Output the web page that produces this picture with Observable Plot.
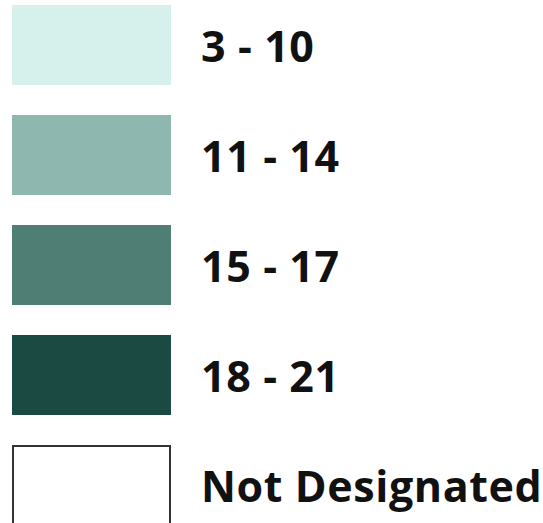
<!DOCTYPE html>
<html>
<head>
<meta charset="utf-8">
<script src="https://cdn.jsdelivr.net/npm/d3@7"></script>
<script src="https://cdn.jsdelivr.net/npm/@observablehq/plot@0.6"></script>
<style>
  html, body { margin: 0; padding: 0; background: #fff; }
  svg text { letter-spacing: 0.6px; }
</style>
</head>
<body>
<div id="chart"></div>
<script>
const labels = ["3 - 10", "11 - 14", "15 - 17", "18 - 21", "Not Designated"];
const colors = ["#d6f0eb", "#8eb7af", "#4f7e75", "#1b4a43", "#ffffff"];
const outlined = ["Not Designated"];

const data = labels.map((label, i) => ({label, color: colors[i], outlined: outlined.includes(label)}));

const chart = Plot.plot({
  width: 543,
  height: 523,
  margin: 0,
  style: {background: "#fff"},
  x: {type: "band", domain: ["swatch"], range: [12, 171], padding: 0, axis: null},
  y: {type: "band", domain: labels, range: [5, 525], paddingInner: 30 / 110, paddingOuter: 0, axis: null},
  color: {type: "ordinal", domain: labels, range: colors},
  marks: [
    Plot.cell(data.filter(d => !d.outlined), {x: () => "swatch", y: "label", fill: "label", inset: 0}),
    Plot.cell(data.filter(d => d.outlined), {x: () => "swatch", y: "label", fill: "label", stroke: "#333", strokeWidth: 2, inset: 1}),
    Plot.text(data, {
      x: () => "swatch",
      y: "label",
      text: "label",
      textAnchor: "start",
      dx: 109,
      dy: 3,
      fontSize: 43,
      fontWeight: "bold",
      fontFamily: "Open Sans",
      fill: "#111"
    })
  ]
});
document.getElementById("chart").appendChild(chart);
</script>
</body>
</html>
